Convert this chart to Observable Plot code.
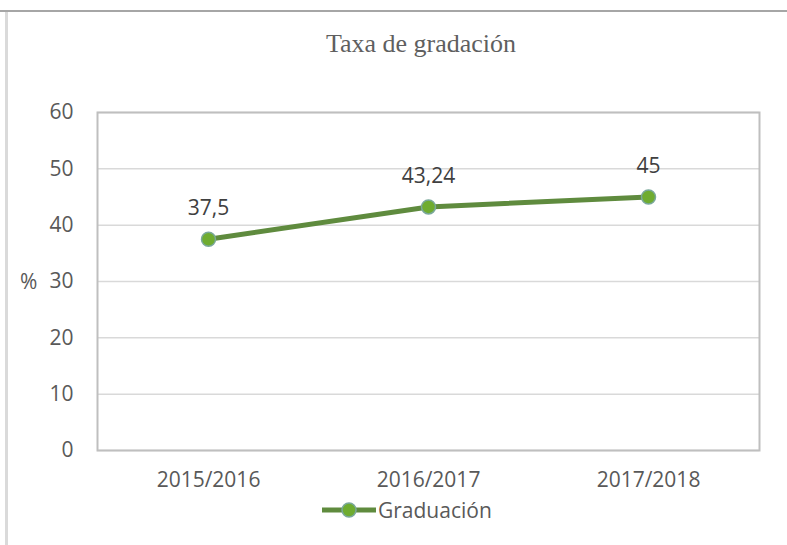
<!DOCTYPE html>
<html>
<head>
<meta charset="utf-8">
<script src="https://cdn.jsdelivr.net/npm/d3@7"></script>
<script src="https://cdn.jsdelivr.net/npm/@observablehq/plot@0.6"></script>
<style>
  html, body { margin: 0; padding: 0; background: #fff; }
  #wrap { position: relative; width: 787px; height: 545px; overflow: hidden; }
  #topline { position: absolute; left: 0; top: 10px; width: 787px; height: 2px; background: #a6a6a6; }
  #leftline { position: absolute; left: 5px; top: 12px; width: 3px; height: 533px; background: #dadada; }
  #title { position: absolute; left: 321px; width: 200px; top: 29px; text-align: center; white-space: nowrap;
           font-family: "Liberation Serif", serif; font-size: 26px; color: #5f5f5f; }
  #pct { position: absolute; left: 20px; top: 267px; font-family: "Open Sans", sans-serif; font-size: 21px; color: #595959; }
  #legend { position: absolute; left: 320px; top: 495px; display: flex; align-items: center;
            font-family: "Open Sans", sans-serif; font-size: 21px; color: #595959; }
  #chart { position: absolute; left: 0; top: 0; }
</style>
</head>
<body>
<div id="wrap">
  <div id="chart"></div>
  <div id="topline"></div>
  <div id="leftline"></div>
  <div id="title">Taxa de gradación</div>
  <div id="pct">%</div>
  <div id="legend">
    <svg width="58" height="30"><line x1="2" y1="15" x2="56" y2="15" stroke="#5f8b3e" stroke-width="5"/><circle cx="29" cy="15" r="7" fill="#6fac30" stroke="#7aa89a" stroke-width="1.5"/></svg>
    <span>Graduación</span>
  </div>
</div>
<script>
const years = ["2015/2016", "2016/2017", "2017/2018"];
const graduacion = [37.5, 43.24, 45];
const yTicks = [0, 10, 20, 30, 40, 50, 60];

const data = years.map((y, i) => ({year: y, value: graduacion[i]}));
const font = "Open Sans, sans-serif";

const chart = Plot.plot({
  width: 787,
  height: 545,
  marginTop: 112,
  marginBottom: 95,
  marginLeft: 97,
  marginRight: 28,
  style: {fontFamily: font, fontSize: "21px", color: "#595959", background: "transparent"},
  x: {type: "point", domain: years, padding: 0.5, label: null},
  y: {domain: [0, 60], label: null},
  marks: [
    Plot.ruleY(yTicks, {stroke: "#d9d9d9", strokeWidth: 1.5}),
    Plot.frame({stroke: "#bfbfbf", strokeWidth: 2}),
    Plot.axisY({ticks: yTicks, tickSize: 0, tickPadding: 24, fontSize: 21, fill: "#595959", label: null}),
    Plot.axisX({tickSize: 0, tickPadding: 22, fontSize: 21, fill: "#595959", label: null}),
    Plot.line(data, {x: "year", y: "value", stroke: "#5f8b3e", strokeWidth: 5}),
    Plot.dot(data, {x: "year", y: "value", r: 7, fill: "#6fac30", stroke: "#7aa89a", strokeWidth: 1.5}),
    Plot.text(data, {x: "year", y: "value", text: d => String(d.value).replace(".", ","), dy: -31, fontSize: 21, fill: "#404040"})
  ]
});
document.getElementById("chart").appendChild(chart);
</script>
</body>
</html>
